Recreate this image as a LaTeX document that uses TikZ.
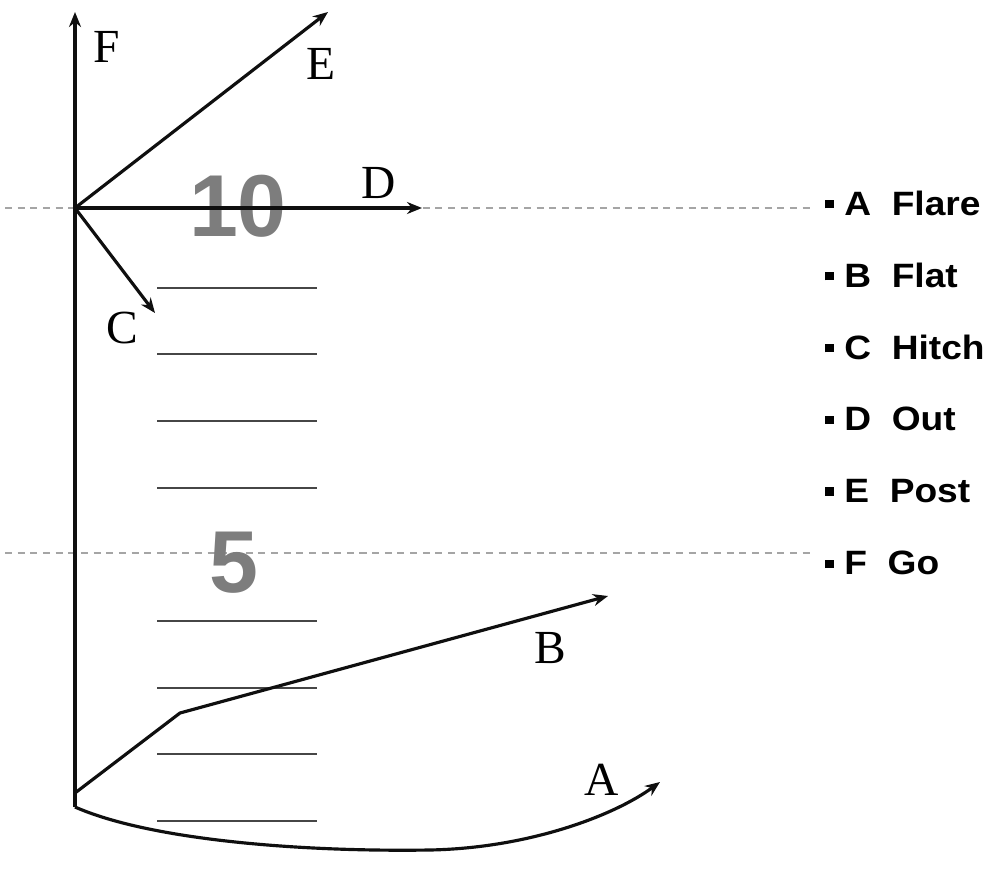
\documentclass[tikz,border=0pt]{standalone}
\usepackage{fontspec}
\setmainfont{Liberation Serif}
\setsansfont{Liberation Sans}
\usepackage{tikz}
\usetikzlibrary{arrows.meta, positioning}
\usepackage{xcolor}
\definecolor{routeblack}{RGB}{15,15,15}
\definecolor{yardgray}{RGB}{70,70,70}
\definecolor{dashgray}{RGB}{165,165,165}
\definecolor{numgray}{RGB}{125,125,125}

\newcommand{\legsq}{\rule[0.2em]{0.25em}{0.25em}}

\begin{document}
\begin{tikzpicture}[
    x=0.01cm, y=-0.01cm,
    route/.style={-{Stealth[length=1.5mm, width=1.2mm]}, line width=0.9pt, routeblack},
    yardline/.style={line width=0.8pt, yardgray},
    fieldline/.style={dashgray, line width=0.7pt, dash pattern=on 2pt off 1.6pt},
    yardnum/.style={font=\fontsize{25}{30}\selectfont\sffamily\bfseries, text=numgray, inner sep=0pt},
    lbl/.style={font=\fontsize{13.5}{16}\selectfont, inner sep=0pt},
    legend/.style={font=\fontsize{9.6}{11}\selectfont\sffamily\bfseries, anchor=west, xscale=1.1, inner sep=0pt}
]
\useasboundingbox (0,0) rectangle (994,873);

% Field markings
\draw[fieldline] (5,208) -- (812,208);
\draw[fieldline] (5,553) -- (812,553);
\node[yardnum] (ten) at (238,206) {10};
\node[yardnum] (five) at (234,563) {5};

% Yard lines
\draw[yardline] (157,288) -- (317,288);
\draw[yardline] (157,354) -- (317,354);
\draw[yardline] (157,421) -- (317,421);
\draw[yardline] (157,488) -- (317,488);
\draw[yardline] (157,621) -- (317,621);
\draw[yardline] (157,688) -- (317,688);
\draw[yardline] (157,754) -- (317,754);
\draw[yardline] (157,821) -- (317,821);

% Route points
\coordinate (break) at (75,208);
\coordinate (stemtop) at (75,12);
\coordinate (stembot) at (75,807);
\coordinate (etip) at (328,12);
\coordinate (dtip) at (422,208);
\coordinate (ctip) at (155,313);
\coordinate (bstart) at (75,793);
\coordinate (bbend) at (180,713);
\coordinate (btip) at (608,596);
\coordinate (abot) at (430,850);
\coordinate (atip) at (660,782);

% Routes
\draw[route] (stembot) -- (stemtop);
\draw[route] (break) -- (etip);
\draw[route] (break) -- (dtip);
\draw[route] (break) -- (ctip);
\draw[route] (bstart) -- (bbend) -- (btip);
\draw[route] (stembot) .. controls (150,840) and (300,852) .. (abot)
    .. controls (530,848) and (615,815) .. (atip);

% Route labels
\node[lbl] (lf) at (107,47) {F};
\node[lbl] (le) at (321,64) {E};
\node[lbl] (ld) at (379,183) {D};
\node[lbl] (lc) at (122,328) {C};
\node[lbl] (lb) at (550,648) {B};
\node[lbl] (la) at (602,780) {A};

% Legend
\node[legend] (flare) at (824,203) {\legsq\ A~~Flare};
\node[legend, below=0.72cm of flare.west, anchor=west] (flat) {\legsq\ B~~Flat};
\node[legend, below=0.72cm of flat.west, anchor=west] (hitch) {\legsq\ C~~Hitch};
\node[legend, below=0.72cm of hitch.west, anchor=west] (out) {\legsq\ D~~Out};
\node[legend, below=0.72cm of out.west, anchor=west] (post) {\legsq\ E~~Post};
\node[legend, below=0.72cm of post.west, anchor=west] (go) {\legsq\ F~~Go};
\end{tikzpicture}
\end{document}
